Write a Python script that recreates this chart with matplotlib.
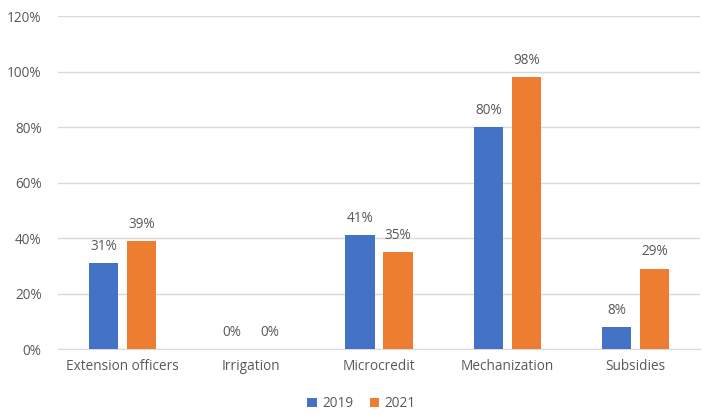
import matplotlib.pyplot as plt
import numpy as np

categories = ["Extension officers", "Irrigation", "Microcredit", "Mechanization", "Subsidies"]
years = ["2019", "2021"]
values_2019 = [31, 0, 41, 80, 8]
values_2021 = [39, 0, 35, 98, 29]
colors = ["#4472C4", "#ED7D31"]
text_color = "#595959"

plt.rcParams["font.family"] = ["Open Sans", "DejaVu Sans"]

fig = plt.figure(figsize=(7.02, 4.15), dpi=100)
ax = fig.add_axes([0.083, 0.159, 0.914, 0.802])

x = np.arange(len(categories))
width = 0.23
offset = 0.148

for vals, year, color, shift in zip([values_2019, values_2021], years, colors, [-offset, offset]):
    bars = ax.bar(x + shift, vals, width, color=color, label=year, zorder=3)
    for b, v in zip(bars, vals):
        ax.text(b.get_x() + b.get_width() / 2, v + 3.3, f"{v}%",
                ha="center", va="bottom", fontsize=9.8, color=text_color)

ax.set_xlim(-0.5, len(categories) - 0.5)
ax.set_ylim(0, 120)
ax.set_yticks(range(0, 121, 20))
ax.set_yticklabels([f"{t}%" for t in range(0, 121, 20)])
ax.set_xticks(x)
ax.set_xticklabels(categories)
ax.tick_params(axis="both", length=0, labelsize=9.8, colors=text_color)
ax.tick_params(axis="x", pad=7)
ax.tick_params(axis="y", pad=12)
ax.grid(axis="y", color="#D9D9D9", linewidth=1, zorder=0)
for side in ["top", "right", "left"]:
    ax.spines[side].set_visible(False)
ax.spines["bottom"].set_color("#D9D9D9")

fig.legend(loc="lower center", bbox_to_anchor=(0.515, -0.02), ncol=2, frameon=False,
           fontsize=9.8, labelcolor=text_color, handlelength=0.7, handleheight=0.7,
           columnspacing=1.2, handletextpad=0.4)

fig.savefig("out.png", dpi=100)
